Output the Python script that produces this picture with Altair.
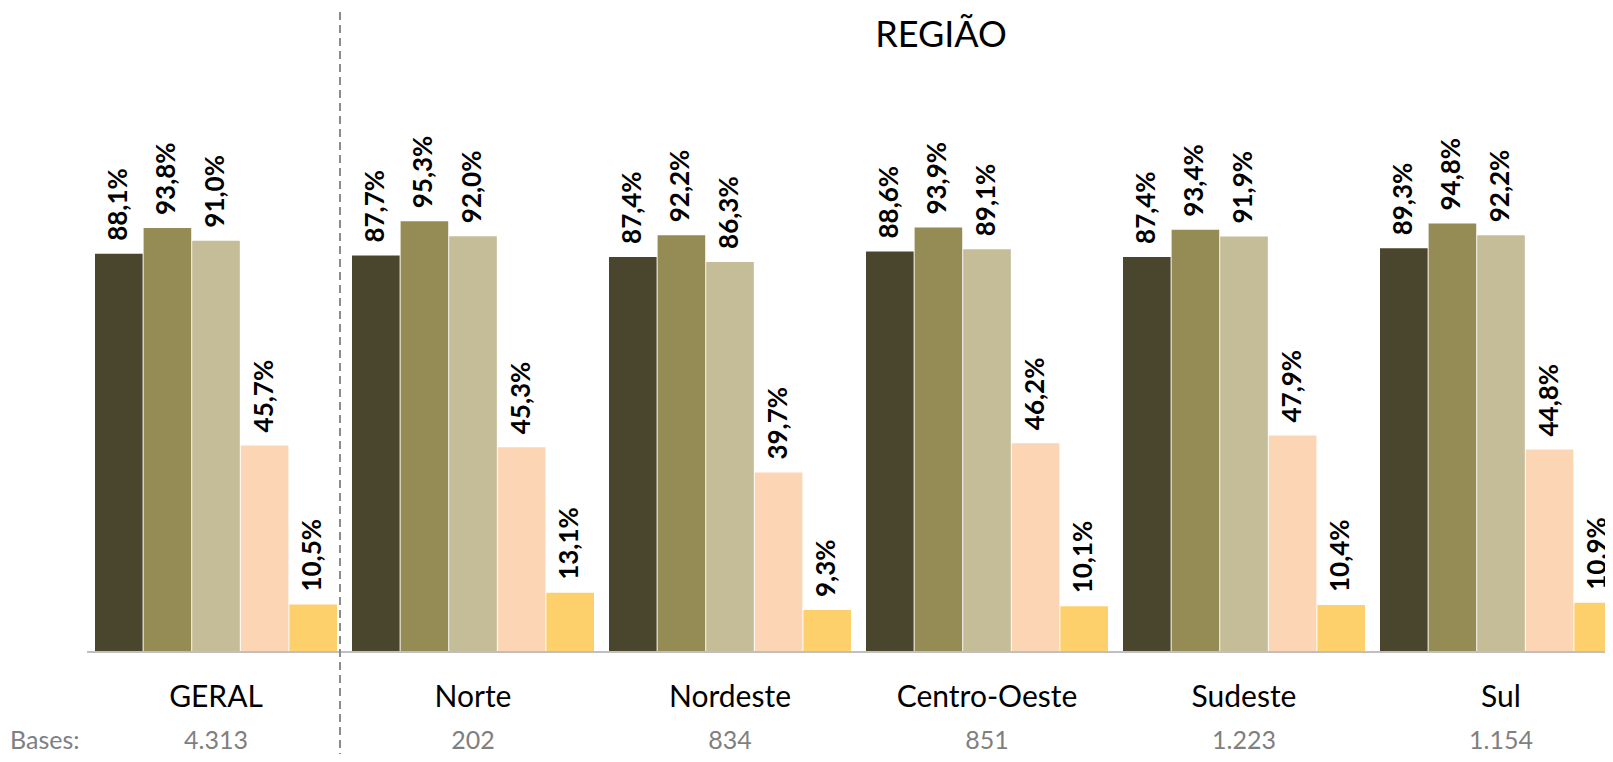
import altair as alt
import pandas as pd

regions = ["GERAL", "Norte", "Nordeste", "Centro-Oeste", "Sudeste", "Sul"]
series = ["Série 1", "Série 2", "Série 3", "Série 4", "Série 5"]
values = {
    "GERAL":        [88.1, 93.8, 91.0, 45.7, 10.5],
    "Norte":        [87.7, 95.3, 92.0, 45.3, 13.1],
    "Nordeste":     [87.4, 92.2, 86.3, 39.7, 9.3],
    "Centro-Oeste": [88.6, 93.9, 89.1, 46.2, 10.1],
    "Sudeste":      [87.4, 93.4, 91.9, 47.9, 10.4],
    "Sul":          [89.3, 94.8, 92.2, 44.8, 10.9],
}
bases = ["4.313", "202", "834", "851", "1.223", "1.154"]
colors = ["#4a452d", "#958b55", "#c4bd97", "#fcd5b5", "#fdd06c"]

rows = []
for r in regions:
    for s, v in zip(series, values[r]):
        rows.append({"region": r, "serie": s, "valor": v,
                     "rotulo": f"{v:.1f}".replace(".", ",") + "%"})
df = pd.DataFrame(rows)
df_groups = pd.DataFrame({"region": regions, "base": bases})

FONT = "Lato"
W = 1597
xscale = alt.Scale(domain=regions, range=[87, 1614], paddingInner=15 / 257, paddingOuter=0)
x_enc = alt.X("region:N", sort=regions, scale=xscale, axis=None)
y_enc = alt.Y("valor:Q", scale=alt.Scale(domain=[0, 100]), axis=None)
xo = alt.XOffset("serie:N", sort=series, scale=alt.Scale(paddingInner=0.02, paddingOuter=0))

bars = alt.Chart(df).mark_bar(clip=True).encode(
    x=x_enc, xOffset=xo, y=y_enc,
    color=alt.Color("serie:N", sort=series,
                    scale=alt.Scale(domain=series, range=colors), legend=None),
)

labels = alt.Chart(df).mark_text(
    angle=270, align="left", baseline="middle", dx=13,
    font=FONT, fontSize=26, fontWeight="bold", color="black",
).encode(x=x_enc, xOffset=xo, y=y_enc, text="rotulo:N")

baseline_rule = alt.Chart(df_groups).mark_rule(color="#bfbfbf", strokeWidth=2).encode(
    x=alt.value(79), x2=alt.value(W), y=alt.value(452)
)

divider = alt.Chart(df_groups).mark_rule(
    color="#8c8c8c", strokeWidth=1.5, strokeDash=[8, 5]
).encode(x=alt.value(332), y=alt.value(-188), y2=alt.value(554))

group_names = alt.Chart(df_groups).mark_text(
    font=FONT, fontSize=30, baseline="alphabetic", color="black"
).encode(x=x_enc, y=alt.value(507), text="region:N")

base_vals = alt.Chart(df_groups).mark_text(
    font=FONT, fontSize=25, baseline="alphabetic", color="#7f7f7f"
).encode(x=x_enc, y=alt.value(549), text="base:N")

bases_lbl = alt.Chart(pd.DataFrame({"t": ["Bases:"]})).mark_text(
    font=FONT, fontSize=25, baseline="alphabetic", align="left", color="#7f7f7f"
).encode(x=alt.value(2), y=alt.value(549), text="t:N")

title = alt.Chart(pd.DataFrame({"t": ["REGIÃO"]})).mark_text(
    font=FONT, fontSize=36, baseline="alphabetic", align="center", color="black"
).encode(x=alt.value(933), y=alt.value(-153), text="t:N")

chart = alt.layer(
    bars, labels, baseline_rule, divider, group_names, base_vals, bases_lbl, title
).properties(
    width=W, height=452,
    autosize=alt.AutoSizeParams(type="none"),
    padding={"left": 0, "right": 0, "top": 192, "bottom": 102},
    background="white",
).configure_view(stroke=None)

chart.save("out.html", embed_options={"renderer": "svg", "actions": False})
